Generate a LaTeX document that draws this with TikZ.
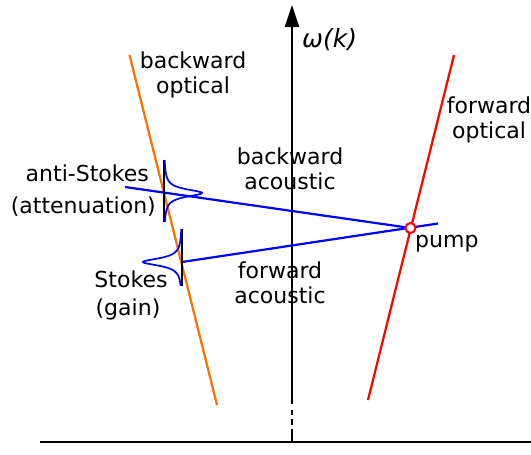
\documentclass[tikz,border=0pt]{standalone}
\usepackage{fontspec}
\setmainfont{DejaVu Sans}
\usetikzlibrary{arrows.meta}
\definecolor{orangeline}{RGB}{255,110,0}
\begin{document}
\begin{tikzpicture}[x=1pt,y=-1pt,
  lbl/.style={font=\fontsize{22}{25}\selectfont, inner sep=0pt, align=center},
  ax/.style={line width=2.4pt, black},
  beam/.style={line width=2.2pt},
  marker/.style={line width=2pt, black}]
\useasboundingbox (0,0) rectangle (531,455);
% axes
\coordinate (ybot) at (292,442);
\coordinate (ytop) at (292,5);
\coordinate (xl) at (40,442);
\coordinate (xr) at (531,442);
\draw[ax] (xl) -- (xr);
\draw[ax] (ybot) -- (292,429);
\draw[ax] (292,425) -- (292,419);
\draw[ax] (292,415) -- (292,410);
\draw[ax, -{Triangle[length=22pt,width=14pt]}] (292,404) -- (ytop);
% dispersion lines
\coordinate (ot) at (129.5,55);
\coordinate (ob) at (217,405);
\coordinate (rt) at (454,55);
\coordinate (rb) at (368,400);
\draw[orangeline, beam] (ot) -- (ob);
\draw[red, beam] (rt) -- (rb);
% acoustic lines
\coordinate (P) at (410.5,228);
\coordinate (aS) at (125,187);
\coordinate (S) at (182,262);
\coordinate (Sr) at (438,223.5);
\draw[blue, beam] (aS) -- (P);
\draw[blue, beam] (S) -- (Sr);
% lorentzians
\draw[marker] (164,160) -- (164,222);
\draw[blue, line width=1.7pt] plot[domain=160:222, samples=150, smooth] ({164+38/(1+((\x-193)/4.5)^2)}, {\x});
\draw[marker] (182,229) -- (182,286);
\draw[blue, line width=1.7pt] plot[domain=229:286, samples=150, smooth] ({182-39/(1+((\x-262)/4.5)^2)}, {\x});
% pump
\node[circle, draw=red, fill=white, line width=2pt, minimum size=10pt, inner sep=0pt] (pumpdot) at (P) {};
% labels
\node[lbl, anchor=base] (bo) at (193,93) {backward\\optical};
\node[lbl, anchor=base] (fo) at (489,138) {forward\\optical};
\node[lbl, anchor=base] (ba) at (290,189) {backward\\acoustic};
\node[lbl, anchor=base] (fa) at (280,303) {forward\\acoustic};
\node[lbl, anchor=base east] (as) at (149,181) {anti-Stokes};
\node[lbl, anchor=base east] (att) at (156,213) {(attenuation)};
\node[lbl, anchor=base] (st) at (131,287) {Stokes};
\node[lbl, anchor=base] (gain) at (128,315) {(gain)};
\node[lbl, anchor=base west] (pl) at (415,247) {pump};
\node[lbl, anchor=base west, font=\fontsize{25}{28}\selectfont] (om) at (302,48) {\textit{ω(k)}};
\end{tikzpicture}
\end{document}
